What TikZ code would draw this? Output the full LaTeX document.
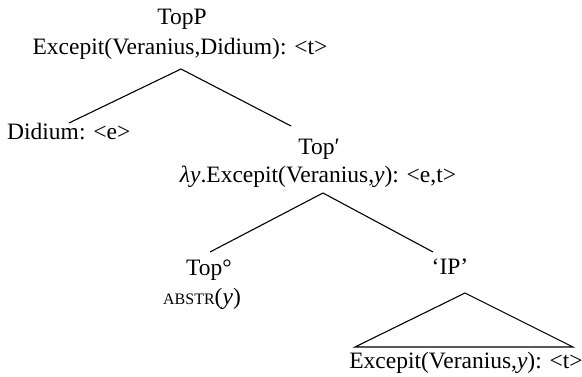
\documentclass[tikz,border=0pt]{standalone}
\usepackage{fontspec}
\setmainfont{Liberation Serif}
\begin{document}
\begin{tikzpicture}[x=1pt,y=-1pt,
  lbl/.style={anchor=base,inner sep=0pt,font=\fontsize{23.5}{28}\selectfont},
  branch/.style={line width=1.1pt,black}]
\useasboundingbox (0,0) rectangle (582,377);
% labels
\node[lbl] (topp) at (182,25) {TopP};
\node[lbl] (toppsem) at (180,55) {Excepit(Veranius,Didium): <t>};
\node[lbl,anchor=base west] (didium) at (7,140) {Didium: <e>};
\node[lbl] (topbar) at (319,155) {Top′};
\node[lbl] (topbarsem) at (318,183) {\textit{λy}.Excepit(Veranius,\textit{y}): <e,t>};
\node[lbl] (topzero) at (209,276) {Top°};
\node[lbl] (abstr) at (202,305) {{\fontsize{16}{18}\selectfont ABSTR}(\textit{y})};
\node[lbl] (ip) at (450,275) {‘IP’};
\node[lbl] (ipsem) at (466,368) {Excepit(Veranius,\textit{y}): <t>};
% branch points
\coordinate (a1) at (181,69);
\coordinate (l1) at (69,123);
\coordinate (r1) at (291,126);
\coordinate (a2) at (323,193);
\coordinate (l2) at (210,252);
\coordinate (r2) at (433,252);
\coordinate (a3) at (465,293);
\coordinate (bl) at (355,347);
\coordinate (br) at (573,347);
\draw[branch] (l1) -- (a1) -- (r1);
\draw[branch] (l2) -- (a2) -- (r2);
\draw[branch] (a3) -- (bl) -- (br) -- cycle;
\end{tikzpicture}
\end{document}
